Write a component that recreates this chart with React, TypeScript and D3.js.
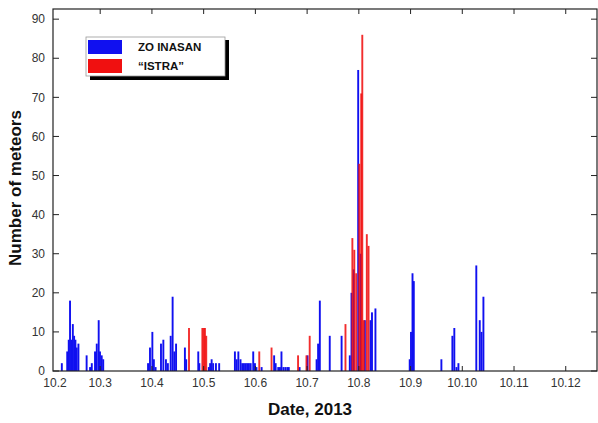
import * as d3 from 'd3';

// hours since 2 Oct 2013 00:00 UT, meteor counts per bin
const blueHours = [6.2, 8.7, 9.4, 10.0, 10.8, 11.3, 11.9, 12.5, 13.1, 13.9,
  17.7, 19.3, 20.1, 21.6, 22.4, 23.3, 23.9, 24.7, 25.4,
  46.2, 47.1, 48.2, 48.9, 49.7, 52.2, 53.3, 54.5, 55.4, 56.7, 57.6, 58.4, 59.2,
  63.3, 63.9, 69.5, 70.0, 74.4, 75.0, 75.7, 76.4, 77.7, 79.2,
  86.5, 87.3, 88.1, 89.1, 89.9, 90.7, 91.5, 92.2, 93.0, 93.8, 95.0, 95.8, 96.5, 98.9,
  104.7, 105.4, 106.6, 107.4, 108.1, 109.0, 109.9, 110.8, 111.5, 116.5, 120.2,
  124.4, 125.1, 125.9, 130.5, 136.0, 139.8, 140.6, 141.6, 143.7, 144.8, 146.8,
  149.4, 150.1, 151.7, 167.6, 168.2, 168.9, 169.5, 182.3, 187.4, 188.3, 189.3, 190.2,
  198.5, 200.1, 200.9, 201.8];
const blueCounts = [2, 5, 8, 18, 8, 12, 9, 8, 6, 7,
  4, 1, 2, 5, 7, 13, 5, 4, 3,
  2, 6, 10, 3, 1, 7, 8, 3, 2, 9, 19, 5, 7,
  6, 3, 5, 2, 1, 2, 3, 2, 2, 2,
  5, 3, 5, 3, 2, 2, 2, 2, 2, 2, 5, 2, 1, 1,
  4, 2, 1, 1, 5, 1, 1, 1, 1, 1, 4,
  3, 7, 18, 9, 9, 4, 20, 26, 77, 30, 13,
  13, 15, 16, 3, 10, 25, 23, 3, 9, 11, 1, 2,
  27, 13, 10, 19];

const redHours = [65.2, 71.4, 72.0, 72.6, 73.2, 97.8, 103.5, 115.8, 119.7, 121.2,
  137.8, 141.0, 141.9, 142.8, 144.2, 145.1, 145.6, 146.3, 147.7, 148.5];
const redCounts = [11, 11, 11, 11, 9, 5, 6, 4, 4, 9,
  12, 34, 31, 25, 53, 71, 86, 13, 35, 32];

const xTickHours = [0, 24, 48, 72, 96, 120, 144, 168, 192, 216, 240];
const xTickLabels = ['10.2', '10.3', '10.4', '10.5', '10.6', '10.7', '10.8', '10.9', '10.10', '10.11', '10.12'];
const yTicks = [0, 10, 20, 30, 40, 50, 60, 70, 80, 90];

const legendNames = ['ZO INASAN', '\u201CISTRA\u201D'];
const legendColors = ['#1010f0', '#f01010'];

const W = 598;
const H = 423;
const plot = { left: 53, right: 597, top: 9, bottom: 371 };
const font = 'Arial, "Liberation Sans", sans-serif';

export default function App() {
  const x = d3.scaleLinear().domain([2.1, 254.5]).range([plot.left, plot.right]);
  const y = d3.scaleLinear().domain([0, 92.6]).range([plot.bottom, plot.top]);
  const bw = 1.9;

  const blue = blueHours.map((h, i) => ({ h, v: blueCounts[i] }));
  const red = redHours.map((h, i) => ({ h, v: redCounts[i] }));

  return (
    <svg width={W} height={H} style={{ position: 'absolute', left: 0, top: 0, background: '#fff' }}>
      <g>
        {blue.map((d, i) => (
          <rect key={'b' + i} x={x(d.h) - bw / 2} y={y(d.v)} width={bw} height={y(0) - y(d.v)}
            fill={legendColors[0]} />
        ))}
        {red.map((d, i) => (
          <rect key={'r' + i} x={x(d.h) - bw / 2} y={y(d.v)} width={bw} height={y(0) - y(d.v)}
            fill={legendColors[1]} fillOpacity={0.88} />
        ))}
      </g>

      {/* frame + inward ticks */}
      <rect x={plot.left} y={plot.top} width={plot.right - plot.left} height={plot.bottom - plot.top}
        fill="none" stroke="#222" strokeWidth={1.2} />
      {yTicks.map((t) => (
        <g key={'y' + t}>
          <line x1={plot.left} x2={plot.left + 6} y1={y(t)} y2={y(t)} stroke="#222" />
          <line x1={plot.right - 6} x2={plot.right} y1={y(t)} y2={y(t)} stroke="#222" />
          <text x={plot.left - 8} y={y(t)} dy="0.35em" textAnchor="end" fontSize={12}
            fontFamily={font} fill="#333">{t}</text>
        </g>
      ))}
      {xTickHours.map((t, i) => {
        const px = Math.max(x(t), plot.left + 2);
        return (
          <g key={'x' + t}>
            {x(t) > plot.left && (
              <>
                <line x1={px} x2={px} y1={plot.bottom} y2={plot.bottom - 5} stroke="#222" />
                <line x1={px} x2={px} y1={plot.top} y2={plot.top + 5} stroke="#222" />
              </>
            )}
            <text x={px} y={plot.bottom + 16} textAnchor="middle" fontSize={12}
              fontFamily={font} fill="#333">{xTickLabels[i]}</text>
          </g>
        );
      })}

      <text x={310} y={415} textAnchor="middle" fontSize={17}
        fontWeight="bold" fontFamily={font} fill="#111">Date, 2013</text>
      <text transform="translate(21,188) rotate(-90)" textAnchor="middle"
        fontSize={17} fontWeight="bold" fontFamily={font} fill="#111">Number of meteors</text>

      {/* legend */}
      <g>
        <rect x={90} y={40} width={139} height={40} fill="#000" />
        <rect x={86} y={37} width={139} height={39} fill="#fff" stroke="#999" strokeWidth={0.8} />
        {legendNames.map((n, i) => (
          <g key={n}>
            <rect x={88} y={40 + i * 19} width={34} height={14} fill={legendColors[i]} />
            <text x={138} y={47 + i * 19} dy="0.35em" fontSize={11.5} fontWeight="bold"
              fontFamily={font} fill="#111">{n}</text>
          </g>
        ))}
      </g>
    </svg>
  );
}
